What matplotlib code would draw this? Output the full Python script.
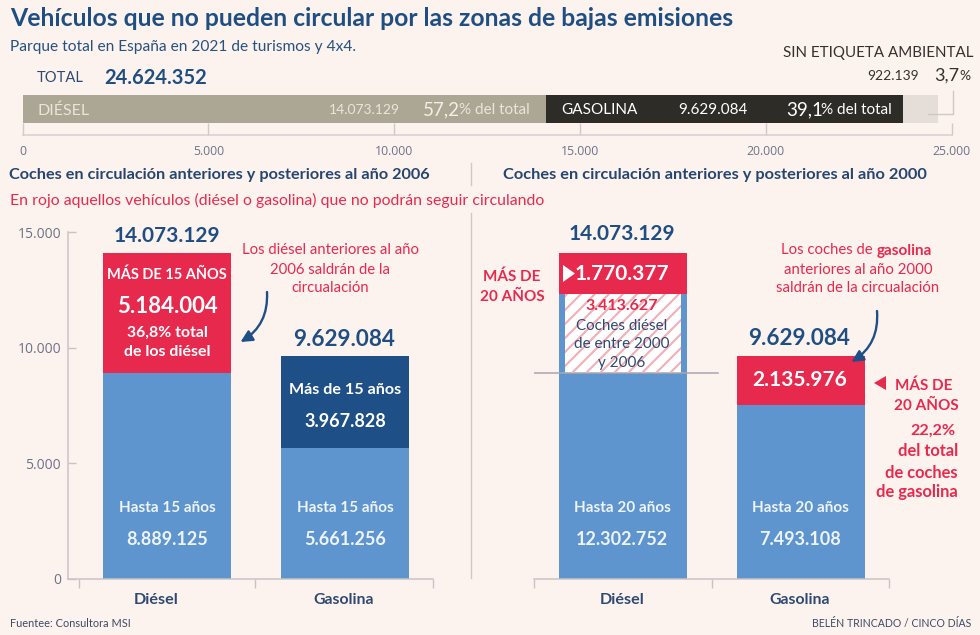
#!/usr/bin/env python3
# -*- coding: utf-8 -*-
"""
Vehiculos que no pueden circular por las zonas de bajas emisiones
- bars are in thousands of cars, labels in units
"""

import matplotlib
matplotlib.use('Agg')
import matplotlib.pyplot as plt
from matplotlib.patches import FancyArrowPatch, Polygon

#### DATA ####
parque_labels = ['DIÉSEL', 'GASOLINA', 'SIN ETIQUETA AMBIENTAL']
parque_values = [14073129, 9629084, 922139]
parque_pct = ['57,2', '39,1', '3,7']
parque_total = 24624352
parque_ticks = [0, 5000, 10000, 15000, 20000, 25000]

categorias = ['Diésel', 'Gasolina']
y_ticks = [0, 5000, 10000, 15000]
totales = [14073129, 9629084]

# corte 2006
hasta_15 = [8889125, 5661256]
mas_15 = [5184004, 3967828]

# corte 2000
hasta_20 = [12302752, 7493108]
mas_20 = [1770377, 2135976]
entre_2000_2006 = 3413627
##############

BG = '#fdf3ee'
BLUE = '#5e95cf'
NAVY = '#1f4f87'
RED = '#e8294e'
TITLE = '#1f4e82'
SLATE = '#2f4a72'
GREY = '#c9c3c8'
TICKTXT = '#6c7388'
FONT = 'Lato'

plt.rcParams['font.family'] = [FONT, 'DejaVu Sans']

W, H = 980, 635


def fmt(v):
    return f'{v:,}'.replace(',', '.')


def px_axes(fig, x0, y0, x1, y1, **kw):
    # axes placed with pixel corners of the 980x635 canvas
    return fig.add_axes([x0/W, 1-y1/H, (x1-x0)/W, (y1-y0)/H], **kw)


def style_panel(ax, xleft, xright, ticks):
    ax.set_facecolor('none')
    ax.set_xlim(xleft, xright)
    ax.set_ylim(0, 15000)
    for s in ['top', 'right']:
        ax.spines[s].set_visible(False)
    ax.spines['bottom'].set_color(GREY)
    ax.spines['left'].set_color(GREY)
    ax.spines['bottom'].set_linewidth(1.1)
    ax.spines['left'].set_linewidth(1.1)
    ax.set_xticks(ticks)
    ax.set_xticklabels([])
    ax.tick_params(axis='x', direction='out', length=6.5, width=1, color=GREY)


fig = plt.figure(figsize=(9.8, 6.35), dpi=100, facecolor=BG)

#### top bar ####
ax_top = px_axes(fig, 22.7, 95, 951.5, 135)
ax_top.set_facecolor('none')
ax_top.set_xlim(0, 25000)
ax_top.set_ylim(0, 1)
parque_colors = ['#aca795', '#2e2c27', '#e4ddd8']
left = 0
for val, col in zip(parque_values, parque_colors):
    ax_top.barh(0.65, val/1000, left=left, height=0.70, color=col, linewidth=0)
    left += val/1000
for s in ['top', 'right', 'left']:
    ax_top.spines[s].set_visible(False)
ax_top.spines['bottom'].set_color('#d5ced2')
ax_top.spines['bottom'].set_linewidth(1.1)
ax_top.set_yticks([])
ax_top.set_xticks(parque_ticks)
ax_top.set_xticklabels([fmt(t) for t in parque_ticks], fontsize=8.8, color=TICKTXT,
                       family='Open Sans')
ax_top.tick_params(axis='x', direction='in', length=8.5, width=1, color='#cfc8cc', pad=7.5)

#### left panel ####
ax_l = px_axes(fig, 68, 232, 433, 578.6)
style_panel(ax_l, -0.556, 1.494, [-0.497, 0.497, 1.494])
x = [0, 1]
bw = 0.719
ax_l.bar(x, [v/1000 for v in hasta_15], width=bw, color=BLUE, linewidth=0)
ax_l.bar(x, [v/1000 for v in mas_15], width=bw, bottom=[v/1000 for v in hasta_15],
         color=[RED, NAVY], linewidth=0)
ax_l.set_yticks(y_ticks)
ax_l.set_yticklabels([fmt(t) for t in y_ticks], fontsize=10, color=TICKTXT, family='Open Sans')
ax_l.tick_params(axis='y', direction='in', length=6, width=1, color=GREY, pad=5)

#### right panel ####
ax_r = px_axes(fig, 534, 232, 889, 578.6)
style_panel(ax_r, -0.5, 1.494, [-0.5, 0.5, 1.494])
ax_r.spines['left'].set_visible(False)
ax_r.set_yticks([])
ax_r.bar(x, [v/1000 for v in hasta_20], width=bw, color=BLUE, linewidth=0)
ax_r.bar(x, [v/1000 for v in mas_20], width=bw, bottom=[v/1000 for v in hasta_20],
         color=RED, linewidth=0)
# tramo diesel 2000-2006, mas estrecho que la barra
tramo = ax_r.bar(0, entre_2000_2006/1000, width=0.653, bottom=hasta_15[0]/1000,
                 facecolor='white', linewidth=0)[0]
ax_r.plot([-0.5, 0.534], [hasta_15[0]/1000]*2, color='#a9a6ad', lw=1.1, zorder=5)

#### text layer, pixel coordinates ####
ov = fig.add_axes([0, 0, 1, 1], zorder=10)
ov.set_xlim(0, W)
ov.set_ylim(H, 0)
ov.axis('off')

# stripes of the 2000-2006 block
for x0 in range(488, 690, 14):
    stripe, = ov.plot([x0, x0+80], [373, 293], color='#f3aeb6', lw=1.5, zorder=1)
    stripe.set_clip_path(tramo)


def txt(x, y, s, size, color=SLATE, weight='normal', ha='left'):
    ov.text(x, y+1.5, s, fontsize=size, color=color, fontweight=weight, ha=ha, va='center')


txt(10, 17, 'Vehículos que no pueden circular por las zonas de bajas emisiones', 17.8, TITLE, 'bold')
txt(10, 46, 'Parque total en España en 2021 de turismos y 4x4.', 11.2, '#26527f')
txt(37, 77, 'TOTAL', 10.6)
txt(104, 76, fmt(parque_total), 14.5, TITLE, 'bold')

# labels inside the top bar
txt(37, 109, parque_labels[0], 11.5, '#e9e5da')
txt(400, 109, fmt(parque_values[0]), 10, '#e9e5da', ha='right')
txt(423, 108, parque_pct[0], 13.5, '#f3efe6')
txt(530, 109, '% del total', 11, '#e9e5da', ha='right')
txt(561, 109, parque_labels[1], 11, 'white')
txt(748, 109, fmt(parque_values[1]), 11, 'white', ha='right')
txt(786, 108, parque_pct[1], 13.5, 'white')
txt(892, 109, '% del total', 11, 'white', ha='right')
txt(973, 51, parque_labels[2], 10.9, '#33312f', ha='right')
txt(919, 75, fmt(parque_values[2]), 10, '#33312f', ha='right')
txt(934, 74, parque_pct[2], 13, '#33312f')
txt(970, 75, '%', 10, '#33312f', ha='right')
ov.plot([952.7, 952.7, 928], [91, 114, 114], color='#cfc8c4', lw=1)

# section headers
txt(9, 173, 'Coches en circulación anteriores y posteriores al año 2006', 11.7, '#26466f', 'bold')
txt(503, 173, 'Coches en circulación anteriores y posteriores al año 2000', 11.75, '#26466f', 'bold')
txt(10, 199, 'En rojo aquellos vehículos (diésel o gasolina) que no podrán seguir circulando', 11.4, RED)
ov.plot([470.5, 470.5], [163, 185], color='#cfc8c4', lw=1)
ov.plot([470.5, 470.5], [213, 578], color='#cfc8c4', lw=1)

# left panel labels
txt(167, 235, fmt(totales[0]), 15, TITLE, 'bold', 'center')
txt(167, 273, 'MÁS DE 15 AÑOS', 10.5, 'white', 'bold', 'center')
txt(167, 305, fmt(mas_15[0]), 16, 'white', 'bold', 'center')
txt(167, 331, '36,8% total', 11.4, 'white', 'bold', 'center')
txt(167, 351, 'de los diésel', 11.5, 'white', 'bold', 'center')
txt(167, 506, 'Hasta 15 años', 11, '#eef4fa', 'bold', 'center')
txt(167, 538, fmt(hasta_15[0]), 13, '#eef4fa', 'bold', 'center')
txt(344, 338, fmt(totales[1]), 16.2, TITLE, 'bold', 'center')
txt(345, 388, 'Más de 15 años', 11.6, 'white', 'bold', 'center')
txt(345, 420, fmt(mas_15[1]), 13, 'white', 'bold', 'center')
txt(345, 506, 'Hasta 15 años', 11, '#eef4fa', 'bold', 'center')
txt(345, 538, fmt(hasta_15[1]), 13, '#eef4fa', 'bold', 'center')
txt(330, 249, 'Los diésel anteriores al año', 10.7, RED, ha='center')
txt(330, 268, '2006 saldrán de la', 10.7, RED, ha='center')
txt(330, 286, 'circualación', 10.7, RED, ha='center')
txt(156, 599, categorias[0], 11.6, SLATE, 'bold', 'center')
txt(344, 599, categorias[1], 11.4, SLATE, 'bold', 'center')

# right panel labels
txt(622, 232, fmt(totales[0]), 15, TITLE, 'bold', 'center')
txt(512, 275, 'MÁS DE', 11, RED, 'bold', 'center')
txt(512, 295, '20 AÑOS', 11, RED, 'bold', 'center')
txt(622, 273, fmt(mas_20[0]), 15, 'white', 'bold', 'center')
txt(622, 305, fmt(entre_2000_2006), 11.5, RED, 'bold', 'center')
txt(622, 324, 'Coches diésel', 10.9, SLATE, ha='center')
txt(622, 343, 'de entre 2000', 11, SLATE, ha='center')
txt(622, 361, 'y 2006', 11, SLATE, ha='center')
txt(622, 506, 'Hasta 20 años', 11, '#eef4fa', 'bold', 'center')
txt(622, 538, fmt(hasta_20[0]), 13, '#eef4fa', 'bold', 'center')
txt(799, 337, fmt(totales[1]), 16.2, TITLE, 'bold', 'center')
txt(800, 379, fmt(mas_20[1]), 15, 'white', 'bold', 'center')
txt(800, 506, 'Hasta 20 años', 11, '#eef4fa', 'bold', 'center')
txt(800, 538, fmt(hasta_20[1]), 13, '#eef4fa', 'bold', 'center')
txt(876, 249, 'Los coches de ', 10.7, RED, ha='right')
txt(877, 249, 'gasolina', 11, RED, 'bold')
txt(858, 268, 'anteriores al año 2000', 10.8, RED, ha='center')
txt(858, 286, 'saldrán de la circualación', 10.7, RED, ha='center')
txt(924, 384, 'MÁS DE', 11, RED, 'bold', 'center')
txt(926, 404, '20 AÑOS', 11, RED, 'bold', 'center')
txt(933, 429, '22,2%', 11.6, RED, 'bold', 'center')
txt(958, 450, 'del total', 11.9, RED, 'bold', 'right')
txt(958, 471, 'de coches', 11.9, RED, 'bold', 'right')
txt(958, 491, 'de gasolina', 11.9, RED, 'bold', 'right')
txt(622, 599, categorias[0], 11.6, SLATE, 'bold', 'center')
txt(800, 599, categorias[1], 11.4, SLATE, 'bold', 'center')

# foot
txt(10, 622, 'Fuentee: Consultora MSI', 7.9, '#3d4a66')
txt(971, 622, 'BELÉN TRINCADO / CINCO DÍAS', 7.6, '#3d4a66', ha='right')

# triangles and arrows
ov.add_patch(Polygon([[563, 265], [563, 282], [575, 273.5]], color='white', lw=0))
ov.add_patch(Polygon([[886, 376], [886, 390], [874, 383]], color=RED, lw=0))
ov.add_patch(FancyArrowPatch((267, 292), (240.5, 342), connectionstyle='arc3,rad=-0.3',
                             arrowstyle='-|>,head_length=7,head_width=3.5', color=NAVY, lw=1.7,
                             shrinkA=0, shrinkB=0))
ov.add_patch(FancyArrowPatch((877, 311), (851.5, 362), connectionstyle='arc3,rad=-0.3',
                             arrowstyle='-|>,head_length=7,head_width=3.5', color=NAVY, lw=1.7,
                             shrinkA=0, shrinkB=0))

fig.savefig('out.png', dpi=100, facecolor=BG)
